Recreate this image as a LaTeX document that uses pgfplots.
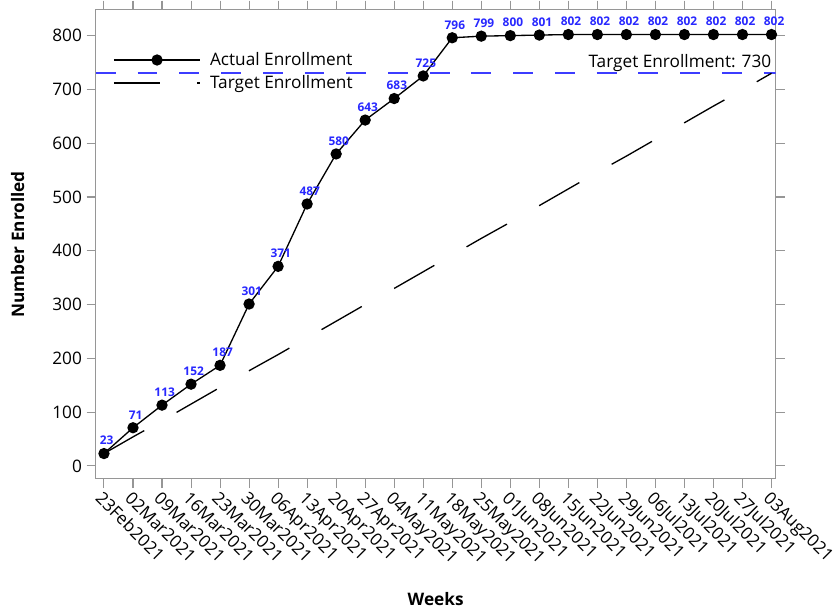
\documentclass[border=0pt]{standalone}
\usepackage{fontspec}
\setmainfont{Open Sans}
\usepackage{pgfplots}
\pgfplotsset{compat=1.18}
\definecolor{refblue}{RGB}{40,40,255}
\definecolor{lineblue}{RGB}{60,60,255}
\definecolor{framegray}{RGB}{150,150,150}
\begin{document}
\begin{tikzpicture}
\begin{axis}[
  scale only axis, width=513pt, height=354pt,
  xmin=-0.28, xmax=23.14, ymin=-24, ymax=848,
  axis line style={framegray, line width=0.8pt},
  tick align=outside, major tick length=7pt,
  tick style={framegray, line width=0.8pt},
  xtick={0,...,23},
  xticklabels={23Feb2021,02Mar2021,09Mar2021,16Mar2021,23Mar2021,30Mar2021,06Apr2021,13Apr2021,20Apr2021,27Apr2021,04May2021,11May2021,18May2021,25May2021,01Jun2021,08Jun2021,15Jun2021,22Jun2021,29Jun2021,06Jul2021,13Jul2021,20Jul2021,27Jul2021,03Aug2021},
  xticklabel style={rotate=-45, anchor=north west, font=\fontsize{13}{15}\selectfont, inner sep=1pt},
  ytick={0,100,...,800},
  yticklabel style={font=\fontsize{13}{15}\selectfont},
  /pgf/number format/assume math mode=true,
  xlabel={Weeks}, ylabel={Number Enrolled},
  every axis x label/.style={at={([yshift=-91pt]rel axis cs:0.5,0)}, anchor=center, font=\bfseries\fontsize{13}{15}\selectfont},
  every axis y label/.style={at={([xshift=-59pt]rel axis cs:0,0.5)}, rotate=90, anchor=center, font=\bfseries\fontsize{13}{15}\selectfont},
  legend style={at={([xshift=10pt,yshift=-28pt]rel axis cs:0,1)}, anchor=north west, draw=none, fill=none, font=\fontsize{13}{15}\selectfont, row sep=2pt,
    /tikz/every odd column/.append style={column sep=5pt}},
  legend cell align=left,
  clip=true,
]
\addplot[draw=lineblue, line width=1.3pt, dash pattern=on 15pt off 16.5pt, forget plot, mark=none] coordinates {
(-0.28,730) (23.14,730)
};
\addplot[black, line width=1pt, mark=*, mark size=3.75pt,
  nodes near coords,
  every node near coord/.append style={font=\bfseries\fontsize{9}{10}\selectfont, text=refblue, anchor=south, inner sep=0pt, yshift=6pt, xshift=2pt},
  legend image code/.code={\draw[black, line width=1pt] (0pt,0pt) -- (65pt,0pt); \fill[black] (32.5pt,0pt) circle (3.75pt);}
] coordinates {
(0,23) (1,71) (2,113) (3,152) (4,187) (5,301) (6,371) (7,487) (8,580) (9,643) (10,683) (11,725)
(12,796) (13,799) (14,800) (15,801) (16,802) (17,802) (18,802) (19,802) (20,802) (21,802) (22,802) (23,802)
};
\addlegendentry{Actual Enrollment}
\addplot[black, line width=1pt, dash pattern=on 35pt off 28pt,
  legend image code/.code={\draw[black, line width=1pt, dash pattern=on 35pt off 28pt] (0pt,0pt) -- (65pt,0pt);}
] coordinates {
(0,23) (1,54) (2,84) (3,115) (4,146) (5,177) (6,207) (7,238) (8,269) (9,300) (10,330) (11,361)
(12,392) (13,423) (14,453) (15,484) (16,515) (17,546) (18,576) (19,607) (20,638) (21,669) (22,699) (23,730)
};
\addlegendentry{Target Enrollment}
\node[anchor=base east, font=\fontsize{13}{15}\selectfont, inner sep=0pt] at (axis cs:23.0,741) {Target Enrollment: 730};
\end{axis}
\path ([xshift=-5pt]current bounding box.west);
\end{tikzpicture}
\end{document}
